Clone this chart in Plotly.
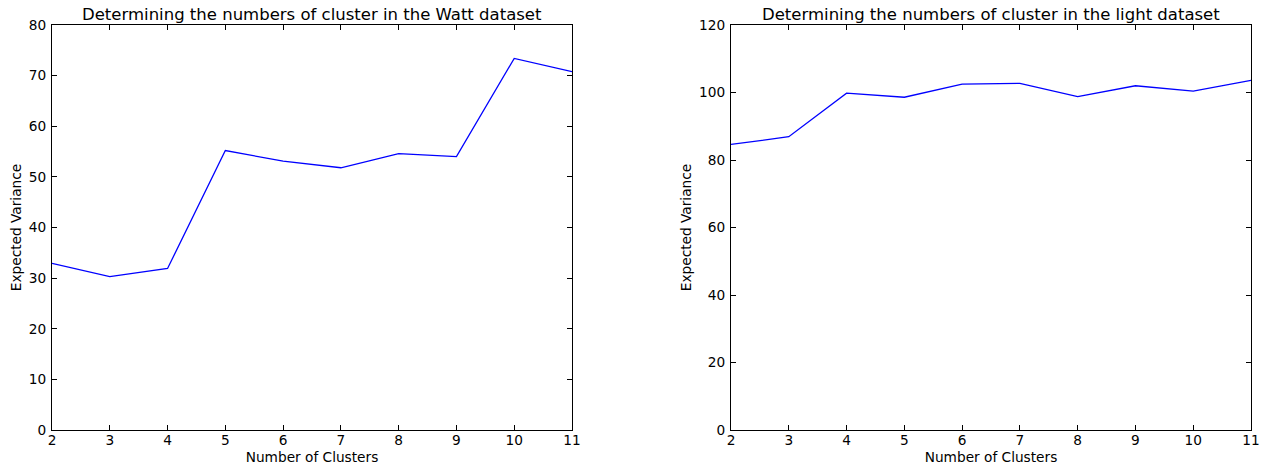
import plotly.graph_objects as go

clusters = [2, 3, 4, 5, 6, 7, 8, 9, 10, 11]
watt_variance = [32.9, 30.3, 31.9, 55.2, 53.1, 51.8, 54.6, 54.0, 73.4, 70.8]
light_variance = [84.6, 86.9, 99.8, 98.6, 102.5, 102.7, 98.8, 102.0, 100.4, 103.6]

titles = ["Determining the numbers of cluster in the Watt dataset",
          "Determining the numbers of cluster in the light dataset"]
x_title = "Number of Clusters"
y_title = "Expected Variance"

W, H = 1264, 471
font = "DejaVu Sans"
tsize = 13.7


def fx(px):
    return px / W


def fy(py):
    return 1 - py / H


fig = go.Figure()
fig.add_trace(go.Scatter(x=clusters, y=watt_variance, mode="lines",
                         line=dict(color="#0000ff", width=1.3), xaxis="x", yaxis="y",
                         showlegend=False, hoverinfo="x+y"))
fig.add_trace(go.Scatter(x=clusters, y=light_variance, mode="lines",
                         line=dict(color="#0000ff", width=1.3), xaxis="x2", yaxis="y2",
                         showlegend=False, hoverinfo="x+y"))

ydom = [fy(430), fy(25)]
xdom1 = [fx(52), fx(572)]
xdom2 = [fx(731), fx(1251)]

common = dict(showgrid=False, zeroline=False, showline=True, linecolor="black",
              linewidth=1, mirror="ticks", ticks="inside", ticklen=5,
              tickcolor="black", automargin=False,
              tickfont=dict(family=font, size=tsize, color="black"))

xcommon = dict(range=[2, 11], tickvals=clusters, ticklabelstandoff=-2,
               title=dict(text=x_title, font=dict(family=font, size=tsize), standoff=4), **common)
ycommon = dict(ticklabelstandoff=2,
               title=dict(text=y_title, font=dict(family=font, size=tsize), standoff=4), **common)

fig.update_layout(
    width=W, height=H,
    margin=dict(l=0, r=0, t=0, b=0),
    paper_bgcolor="white", plot_bgcolor="white",
    font=dict(family=font, color="black"),
    xaxis=dict(domain=xdom1, anchor="y", **xcommon),
    yaxis=dict(domain=ydom, range=[0, 80], tickvals=list(range(0, 81, 10)), anchor="x", **ycommon),
    xaxis2=dict(domain=xdom2, anchor="y2", **xcommon),
    yaxis2=dict(domain=ydom, range=[0, 120], tickvals=list(range(0, 121, 20)), anchor="x2", **ycommon),
    annotations=[
        dict(text=titles[0], x=(xdom1[0] + xdom1[1]) / 2, y=ydom[1], xref="paper", yref="paper",
             xanchor="center", yanchor="bottom", yshift=-1, showarrow=False,
             font=dict(family=font, size=16.5, color="black")),
        dict(text=titles[1], x=(xdom2[0] + xdom2[1]) / 2, y=ydom[1], xref="paper", yref="paper",
             xanchor="center", yanchor="bottom", yshift=-1, showarrow=False,
             font=dict(family=font, size=16.5, color="black")),
    ],
)

fig.write_html("out.html", config={"displayModeBar": False},
               post_script="document.body.style.margin='0';document.body.style.overflow='hidden';")
